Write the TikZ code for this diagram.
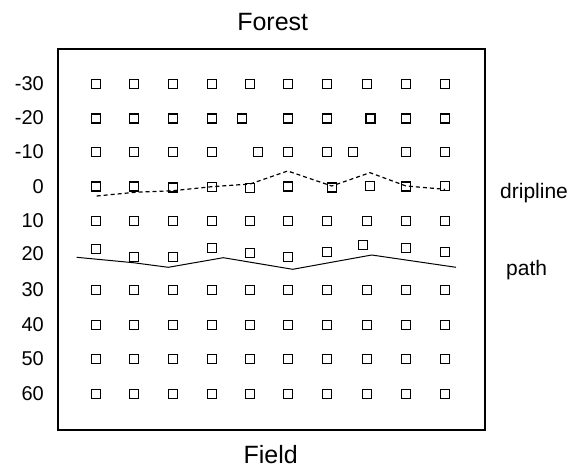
\documentclass[tikz,border=0pt]{standalone}
\usepackage{fontspec}
\setmainfont{Liberation Sans}
\begin{document}
\begin{tikzpicture}[x=1pt,y=-1pt,
  sq/.style={draw, line width=1.2pt, minimum size=9pt, inner sep=0pt, outer sep=0pt},
  rowlabel/.style={anchor=east, inner sep=0pt, font=\fontsize{20}{24}\selectfont},
  titlelabel/.style={inner sep=0pt, font=\fontsize{25}{30}\selectfont},
  sidelabel/.style={anchor=base west, inner sep=0pt, font=\fontsize{21}{25}\selectfont},
  frame/.style={draw, line width=1.6pt},
  dripstyle/.style={line width=1.2pt, dash pattern=on 4pt off 3pt},
  pathstyle/.style={line width=1pt}]
\useasboundingbox (0,0) rectangle (583,470);
\node[frame, minimum width=427pt, minimum height=381pt, inner sep=0pt, anchor=north west] (box) at (57,48) {};
\node[titlelabel] (forest) at (272.7,21.7) {Forest};
\node[titlelabel] (field) at (270.7,455) {Field};
% row labels
\foreach \lab/\yy [count=\i] in {-30/84,-20/118,-10/152,0/187,10/221,20/254,30/290,40/325,50/359,60/394}
  \node[rowlabel] (lab\i) at (44,\yy) {\lab};
% regular rows
\foreach \yy/\r in {84/1,221/5,290/7,325/8,359/9,394/10}
  \foreach \xx [count=\c] in {96,134.3,172.7,211.7,250,287.7,327.3,366.7,406,445}
    \node[sq] (s\r-\c) at (\xx,\yy) {};
% irregular rows
\foreach \xx [count=\c] in {96,134.3,172.7,211.7,242,287.7,327.3,370.5,406,445}
  \node[sq] (s2-\c) at (\xx,118.5) {};
\foreach \xx [count=\c] in {96,134.3,172.7,211.7,258.3,287.7,327.3,353,406,445}
  \node[sq] (s3-\c) at (\xx,152) {};
\foreach \xx/\yy [count=\c] in {96/186.5,134.3/186.5,172.7/187.5,211.7/187,250/188,287.7/186.5,331.7/187.5,370/186,406/186.5,445/186}
  \node[sq] (s4-\c) at (\xx,\yy) {};
\foreach \xx/\yy [count=\c] in {95.7/249.3,134.3/256.7,172.7/256.7,211.7/248.3,250/252.7,287.7/256.7,327.3/251.7,362.7/245,406/248.3,445/251.7}
  \node[sq] (s6-\c) at (\xx,\yy) {};
% dripline
\coordinate (d1) at (96.7,196);
\coordinate (d2) at (135,192.3);
\coordinate (d3) at (173,190.7);
\coordinate (d4) at (211.7,186.7);
\coordinate (d5) at (250,184);
\coordinate (d6) at (287.7,171);
\coordinate (d7) at (331.7,186);
\coordinate (d8) at (370,172.7);
\coordinate (d9) at (406,186);
\coordinate (d10) at (445,189.3);
\draw[dripstyle] (d1) -- (d2) -- (d3) -- (d4) -- (d5) -- (d6) -- (d7) -- (d8) -- (d9) -- (d10);
% path
\coordinate (p1) at (76.7,257.3);
\coordinate (p2) at (133.3,262.7);
\coordinate (p3) at (168.3,267.3);
\coordinate (p4) at (223.3,257.7);
\coordinate (p5) at (292.7,269.3);
\coordinate (p6) at (371.7,255);
\coordinate (p7) at (456,267.3);
\draw[pathstyle] (p1) -- (p2) -- (p3) -- (p4) -- (p5) -- (p6) -- (p7);
\node[sidelabel] (driplabel) at (500,199) {dripline};
\node[sidelabel] (pathlabel) at (506,275) {path};
\end{tikzpicture}
\end{document}
